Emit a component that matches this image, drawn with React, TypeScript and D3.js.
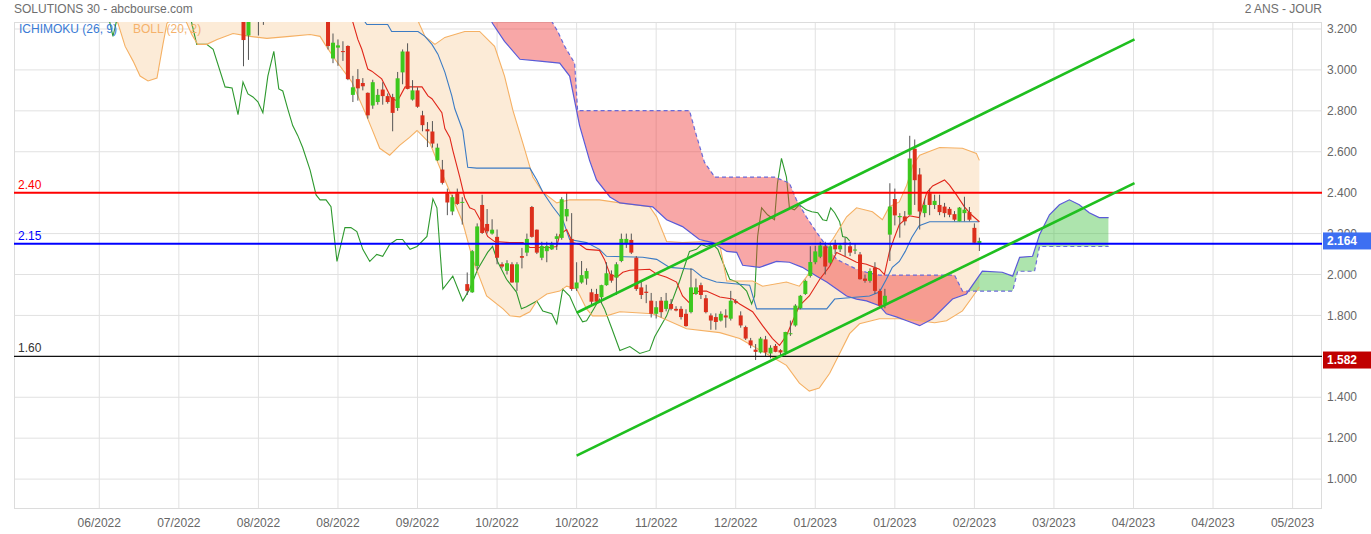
import React from 'react';
import * as d3 from 'd3';

const W = 1371, H = 534;
const PL = 14, PR = 1322, PT = 22, PB = 509;

const xTickIdx = [0, 16, 32, 48, 64, 80, 96, 112, 128, 144, 160, 176, 192, 208, 224, 240];
const xTickLabels = ['06/2022', '07/2022', '08/2022', '08/2022', '09/2022', '10/2022', '10/2022', '11/2022', '12/2022', '01/2023', '01/2023', '02/2023', '03/2023', '04/2023', '04/2023', '05/2023'];
const yTicks = [1.0, 1.2, 1.4, 1.6, 1.8, 2.0, 2.2, 2.4, 2.6, 2.8, 3.0, 3.2];

const firstCandle = 29;
const opens = [3.30, 3.168, 3.27, 3.30, 3.28, 3.30, 3.33, 3.37, 3.35, 3.31, 3.34, 3.42, 3.38, 3.35, 3.31, 3.33, 3.30,
  3.26, 3.056, 3.109, 3.092, 3.117, 2.878, 2.955, 2.936, 2.888, 2.826, 2.843, 2.904, 2.872, 2.867, 2.814, 2.988, 3.09, 2.855, 2.90, 2.778, 2.71, 2.699, 2.558, 2.513,
  2.397, 2.308, 2.397, 2.35, 1.953, 1.913, 2.042, 2.34, 2.247, 2.20, 2.184, 2.05, 2.018, 2.05, 1.961, 2.09, 2.107, 2.33, 2.219, 2.082,
  2.114, 2.123, 2.174, 2.179, 2.284, 2.174, 1.932, 1.961, 1.98, 1.913, 1.905, 1.889, 1.948, 2.00, 1.985, 2.066, 2.152, 2.169, 2.082, 1.937,
  1.916, 1.872, 1.808, 1.872, 1.832, 1.856, 1.832, 1.832, 1.808, 1.816, 1.905, 1.948, 1.884, 1.80, 1.792, 1.775, 1.80, 1.784, 1.87, 1.80,
  1.743, 1.678, 1.633, 1.619, 1.683, 1.614, 1.651, 1.63, 1.619, 1.71, 1.751, 1.835, 1.905, 1.993, 2.06, 2.087, 2.138, 2.058, 2.147, 2.123,
  2.155, 2.138, 2.12, 2.098, 1.98, 1.969, 2.034, 1.92, 1.856, 2.195, 2.369, 2.28, 2.284, 2.292, 2.615, 2.489, 2.30, 2.397, 2.34, 2.34,
  2.332, 2.321, 2.295, 2.26, 2.30, 2.305, 2.228, 2.15];
const highs = [3.36, 3.32, 3.33, 3.34, 3.33, 3.36, 3.40, 3.42, 3.39, 3.36, 3.45, 3.46, 3.41, 3.38, 3.34, 3.36, 3.33,
  3.29, 3.178, 3.149, 3.14, 3.12, 2.971, 3.004, 2.96, 2.89, 2.952, 2.907, 2.94, 2.885, 2.883, 2.99, 3.10, 3.13, 2.95, 2.915, 2.80, 2.745, 2.75, 2.64, 2.56,
  2.42, 2.39, 2.42, 2.378, 2.01, 2.12, 2.25, 2.39, 2.32, 2.27, 2.22, 2.06, 2.07, 2.06, 2.06, 2.13, 2.20, 2.335, 2.22, 2.16,
  2.16, 2.16, 2.20, 2.378, 2.40, 2.30, 2.06, 2.066, 2.03, 1.93, 1.93, 1.95, 2.06, 2.02, 2.06, 2.20, 2.20, 2.20, 2.09, 1.97,
  1.95, 1.91, 1.87, 1.89, 1.91, 1.88, 1.845, 1.845, 1.83, 2.03, 1.98, 1.96, 1.90, 1.81, 1.81, 1.82, 1.83, 1.92, 1.88, 1.82,
  1.75, 1.69, 1.66, 1.695, 1.70, 1.654, 1.66, 1.635, 1.72, 1.775, 1.855, 1.90, 1.975, 2.138, 2.14, 2.16, 2.16, 2.15, 2.17, 2.15,
  2.18, 2.16, 2.15, 2.11, 2.00, 2.03, 2.06, 1.93, 1.93, 2.446, 2.42, 2.30, 2.31, 2.678, 2.66, 2.52, 2.37, 2.42, 2.39, 2.39,
  2.35, 2.33, 2.31, 2.33, 2.38, 2.33, 2.25, 2.18];
const lows = [3.018, 3.049, 3.24, 3.168, 3.22, 3.26, 3.29, 3.32, 3.30, 3.28, 3.33, 3.36, 3.33, 3.29, 3.27, 3.28, 3.25,
  3.10, 3.033, 3.02, 3.044, 2.95, 2.843, 2.85, 2.90, 2.762, 2.81, 2.83, 2.83, 2.835, 2.70, 2.80, 2.93, 2.905, 2.85, 2.815, 2.70, 2.623, 2.62, 2.555, 2.44,
  2.29, 2.29, 2.34, 2.244, 1.90, 1.91, 2.02, 2.198, 2.20, 2.195, 2.05, 2.03, 2.00, 1.96, 1.92, 2.03, 2.09, 2.18, 2.10, 2.07,
  2.06, 2.12, 2.12, 2.17, 2.26, 1.92, 1.92, 1.955, 1.95, 1.85, 1.865, 1.86, 1.945, 1.96, 1.90, 2.06, 2.13, 2.10, 1.92, 1.88,
  1.86, 1.79, 1.785, 1.79, 1.82, 1.825, 1.82, 1.78, 1.745, 1.81, 1.90, 1.88, 1.81, 1.73, 1.73, 1.77, 1.74, 1.775, 1.855, 1.74,
  1.68, 1.64, 1.582, 1.614, 1.60, 1.59, 1.62, 1.60, 1.605, 1.70, 1.745, 1.83, 1.90, 1.985, 2.05, 2.08, 2.00, 2.05, 2.10, 2.11,
  2.09, 2.09, 2.10, 1.975, 1.96, 1.96, 1.905, 1.84, 1.835, 2.066, 2.24, 2.18, 2.24, 2.29, 2.34, 2.22, 2.28, 2.29, 2.32, 2.29,
  2.28, 2.28, 2.26, 2.26, 2.26, 2.26, 2.15, 2.115];
const closes = [3.146, 3.26, 3.30, 3.26, 3.30, 3.33, 3.37, 3.35, 3.31, 3.34, 3.42, 3.38, 3.35, 3.31, 3.33, 3.30, 3.28,
  3.117, 3.133, 3.12, 3.088, 2.955, 2.915, 2.91, 2.92, 2.778, 2.94, 2.878, 2.872, 2.843, 2.79, 2.959, 3.09, 2.907, 2.90, 2.82, 2.73, 2.70, 2.64, 2.62, 2.448,
  2.352, 2.378, 2.345, 2.355, 1.92, 2.114, 2.235, 2.203, 2.211, 2.219, 2.082, 2.039, 2.055, 1.961, 2.05, 2.082, 2.174, 2.184, 2.107, 2.139,
  2.139, 2.147, 2.187, 2.368, 2.32, 1.929, 1.961, 1.997, 2.017, 1.867, 1.867, 1.948, 2.006, 1.97, 2.05, 2.174, 2.174, 2.107, 1.929, 1.90,
  1.91, 1.808, 1.84, 1.816, 1.872, 1.832, 1.824, 1.792, 1.748, 1.937, 1.937, 1.90, 1.816, 1.775, 1.768, 1.808, 1.79, 1.872, 1.862, 1.751,
  1.687, 1.654, 1.622, 1.687, 1.619, 1.642, 1.622, 1.619, 1.719, 1.713, 1.848, 1.896, 1.969, 2.061, 2.113, 2.142, 2.039, 2.138, 2.123, 2.142,
  2.147, 2.107, 2.122, 1.977, 1.969, 2.017, 1.92, 1.848, 1.896, 2.332, 2.289, 2.286, 2.26, 2.567, 2.461, 2.308, 2.34, 2.34, 2.36, 2.305,
  2.30, 2.292, 2.268, 2.327, 2.317, 2.268, 2.155, 2.164];

const bollUpper: [number, number][] = [[1.2, 3.4], [61.5, 3.35], [63.3, 3.26], [63.9, 3.25], [65.5, 3.164], [67.5, 3.125], [69.5, 3.159], [71.5, 3.173],
  [73.5, 3.188], [76.5, 3.188], [79.5, 3.115], [81.5, 2.97], [83.2, 2.801], [85.2, 2.641], [87.2, 2.476], [89.2, 2.403], [92.0, 2.35],
  [94.6, 2.365], [100.6, 2.365], [104.7, 2.35], [110.7, 2.331], [112.1, 2.282], [114.1, 2.161], [117.3, 2.156], [122.2, 2.161], [124.8, 2.147],
  [126.2, 1.968], [131.4, 1.968], [133.4, 1.943], [138.2, 1.963], [140.8, 1.943], [142.2, 1.987], [144.3, 2.074], [147.5, 2.171], [150.3, 2.282],
  [152.3, 2.326], [155.5, 2.307], [157.5, 2.268], [158.9, 2.331], [160.9, 2.355], [162.4, 2.437], [163.6, 2.534], [165.0, 2.583], [169.0, 2.621],
  [173.6, 2.617], [176.4, 2.592], [177, 2.558]];
const bollLower: [number, number][] = [[1.2, 3.3], [2.6, 3.25], [3.6, 3.24], [5.2, 3.115], [6.8, 3.043], [8.2, 2.97], [9.8, 2.946], [11.6, 2.96],
  [12.8, 3.125], [13.6, 3.227], [15.2, 3.27], [17.4, 3.24], [18.6, 3.173], [19.8, 3.125], [21.6, 3.125], [23.7, 3.149], [26.9, 3.178],
  [30.3, 3.164], [33.7, 3.154], [38.3, 3.164], [42.4, 3.173], [44.4, 3.164], [45.4, 3.125], [47.4, 3.052], [50.8, 2.941], [52.0, 2.873],
  [53.4, 2.796], [54.8, 2.713], [56.4, 2.617], [58.4, 2.583], [60.4, 2.631], [62.4, 2.67], [63.9, 2.704], [66.5, 2.641], [69.5, 2.462],
  [73.1, 2.254], [75.1, 2.074], [77.9, 1.895], [81.2, 1.832], [82.6, 1.798], [84.6, 1.793], [86.6, 1.818], [88.0, 1.871], [90.0, 1.905],
  [92.6, 1.919], [94.0, 1.943], [96.0, 1.929], [98.0, 1.832], [99.2, 1.798], [102.0, 1.798], [104.7, 1.818], [111.3, 1.808], [118.1, 1.735],
  [124.8, 1.716], [128.8, 1.687], [134.8, 1.604], [138.2, 1.556], [140.8, 1.469], [142.8, 1.43], [144.8, 1.445], [146.9, 1.517],
  [148.9, 1.614], [150.9, 1.711], [152.9, 1.759], [156.9, 1.784], [160.9, 1.784], [165.0, 1.774], [168.0, 1.764], [170.4, 1.774],
  [173.6, 1.822], [175.6, 1.89], [177, 1.939]];

const tenkan: [number, number][] = [[49.4, 3.27], [50.8, 3.25], [52.0, 3.149], [52.8, 3.101], [54.0, 3.004], [54.8, 2.994], [56.8, 2.956],
  [58.8, 2.859], [60.0, 2.849], [61.5, 2.917], [64.9, 2.917], [66.1, 2.873], [66.9, 2.859], [68.9, 2.791], [69.5, 2.713], [70.5, 2.67],
  [71.1, 2.607], [72.5, 2.476], [73.5, 2.374], [74.5, 2.326], [75.5, 2.316], [76.9, 2.254], [78.1, 2.186], [79.5, 2.161], [82.6, 2.156],
  [85.2, 2.156], [86.6, 2.132], [90.6, 2.132], [92.0, 2.137], [92.6, 2.195], [94.0, 2.22], [95.2, 2.156], [96.6, 2.147], [98.0, 2.123],
  [100.6, 2.118], [101.6, 2.074], [102.7, 2.002], [104.1, 1.987], [105.3, 2.011], [106.7, 2.021], [110.7, 2.026], [112.1, 2.002],
  [114.1, 1.987], [116.1, 1.963], [117.3, 1.895], [118.7, 1.861], [119.3, 1.905], [120.7, 1.919], [122.1, 1.919], [124.8, 1.89],
  [127.4, 1.88], [128.8, 1.856], [131.4, 1.818], [133.4, 1.75], [135.4, 1.687], [136.8, 1.653], [138.2, 1.701], [139.4, 1.769],
  [140.8, 1.847], [142.8, 1.895], [144.9, 1.977], [146.9, 2.04], [148.3, 2.108], [150.3, 2.084], [152.3, 2.06], [154.3, 2.05],
  [156.9, 2.026], [157.9, 2.0], [158.9, 2.11], [159.9, 2.18], [160.9, 2.244], [162.9, 2.287], [164.9, 2.278], [166.4, 2.399],
  [167.6, 2.433], [170.0, 2.462], [171.0, 2.437], [172.4, 2.389], [174.0, 2.331], [175.4, 2.292], [177, 2.258]];
const kijun: [number, number][] = [[52.4, 3.27], [53.8, 3.222], [58.0, 3.222], [58.8, 3.188], [64.1, 3.188], [65.5, 3.164], [66.9, 3.125],
  [68.1, 3.077], [69.5, 2.989], [70.9, 2.873], [71.5, 2.81], [73.1, 2.704], [74.1, 2.524], [75.9, 2.52], [86.6, 2.52], [88.0, 2.462],
  [89.2, 2.403], [91.2, 2.331], [93.2, 2.268], [94.6, 2.171], [98.0, 2.156], [100.6, 2.123], [102.0, 2.089], [109.3, 2.084], [112.1, 2.074],
  [114.7, 2.035], [119.3, 2.026], [121.3, 1.987], [124.1, 1.963], [130.8, 1.948], [132.2, 1.832], [146.3, 1.832], [147.9, 1.88],
  [154.9, 1.895], [156.9, 1.914], [158.3, 1.977], [159.5, 2.035], [160.9, 2.064], [162.1, 2.113], [163.4, 2.181], [164.9, 2.239],
  [167.0, 2.258], [177, 2.258]];
const chikou: [number, number][] = [[1.75, 3.27], [2.75, 3.164], [3.76, 3.27], [18.2, 3.27], [19.6, 3.125], [21.6, 3.125], [22.9, 3.101],
  [25.3, 2.917], [26.7, 2.912], [27.9, 2.781], [28.9, 2.941], [29.9, 2.883], [30.9, 2.868], [31.9, 2.844], [32.9, 2.791], [33.9, 2.97],
  [35.1, 3.091], [36.1, 2.907], [36.9, 2.897], [37.9, 2.81], [38.9, 2.728], [39.9, 2.68], [40.9, 2.621], [42.4, 2.51], [43.6, 2.389],
  [44.4, 2.365], [45.6, 2.365], [46.6, 2.331], [47.8, 2.064], [49.4, 2.229], [50.6, 2.229], [51.8, 2.21], [53.0, 2.123], [54.4, 2.064],
  [55.8, 2.098], [57.0, 2.089], [58.4, 2.147], [59.8, 2.171], [61.0, 2.171], [62.5, 2.123], [63.9, 2.137], [65.9, 2.186], [67.1, 2.37],
  [67.9, 2.326], [69.1, 1.929], [71.1, 1.992], [73.1, 1.871], [74.5, 1.929], [76.1, 2.026], [78.1, 2.108], [79.1, 2.137], [80.1, 2.064],
  [81.9, 1.977], [83.9, 1.914], [84.9, 1.832], [85.9, 1.842], [88.0, 1.871], [89.2, 1.822], [91.0, 1.808], [92.0, 1.759], [93.2, 1.929],
  [94.6, 1.895], [96.0, 1.818], [97.2, 1.769], [98.0, 1.774], [99.2, 1.822], [100.6, 1.88], [101.6, 1.832], [103.1, 1.735], [104.7, 1.629],
  [106.7, 1.648], [108.7, 1.614], [110.7, 1.629], [111.7, 1.696], [114.1, 1.798], [116.7, 1.967], [118.7, 2.113], [120.1, 2.123],
  [121.1, 2.147], [122.1, 2.137], [123.4, 2.147], [124.4, 2.123], [125.4, 2.06], [126.8, 1.977], [128.2, 1.963], [129.2, 1.943],
  [130.2, 1.919], [131.2, 1.856], [131.8, 1.895], [132.4, 2.186], [133.2, 2.326], [134.4, 2.292], [135.8, 2.268], [136.4, 2.447],
  [137.2, 2.568], [138.2, 2.476], [138.8, 2.326], [139.8, 2.316], [140.8, 2.341], [142.2, 2.316], [143.3, 2.307], [144.5, 2.302],
  [145.5, 2.268], [146.3, 2.263], [147.1, 2.326], [147.9, 2.302], [148.9, 2.258], [149.5, 2.186], [150.3, 2.181], [150.9, 2.164]];
const spanA: [number, number][] = [[78.2, 3.27], [79.1, 3.227], [81.5, 3.14], [84.6, 3.052], [88.6, 3.043], [92.6, 3.033], [94.6, 2.97],
  [96.6, 2.728], [98.6, 2.558], [100.0, 2.462], [102.7, 2.379], [104.7, 2.35], [111.3, 2.331], [114.1, 2.268], [117.3, 2.234],
  [120.7, 2.171], [123.4, 2.156], [126.2, 2.113], [128.2, 2.108], [129.4, 2.045], [132.8, 2.035], [136.2, 2.064], [138.8, 2.06],
  [141.4, 2.035], [144.3, 1.992], [146.3, 1.963], [148.3, 1.929], [150.3, 1.895], [152.3, 1.88], [154.3, 1.871], [156.9, 1.847],
  [158.3, 1.808], [160.3, 1.793], [162.4, 1.774], [165.0, 1.75], [167.6, 1.784], [171.6, 1.88], [174.4, 1.905], [177.6, 2.016],
  [181.6, 2.011], [183.7, 1.992], [185.1, 2.084], [187.7, 2.089], [189.1, 2.195], [191.1, 2.292], [193.1, 2.341], [195.1, 2.365],
  [197.1, 2.341], [199.1, 2.302], [201.1, 2.278], [203, 2.278]];
const spanB: [number, number][] = [[90.2, 3.27], [92.2, 3.188], [93.6, 3.115], [95.6, 3.033], [96.2, 2.801], [118.7, 2.801], [120.1, 2.679],
  [121.7, 2.549], [123.8, 2.476], [135.8, 2.476], [138.8, 2.447], [140.2, 2.365], [142.2, 2.282], [144.3, 2.205], [146.3, 2.137],
  [148.3, 2.074], [150.3, 2.05], [152.3, 2.026], [154.3, 2.011], [156.9, 1.997], [172.0, 1.997], [173.6, 1.919], [183.7, 1.919],
  [184.7, 2.016], [188.1, 2.016], [189.1, 2.137], [203, 2.137]];

const trendUpper: [number, number][] = [[96.0, 1.813], [208.2, 3.149]];
const trendLower: [number, number][] = [[96.0, 1.115], [208.2, 2.447]];

const levels = [
  { v: 2.40, label: '2.40', color: '#ff0000', width: 2 },
  { v: 2.15, label: '2.15', color: '#0000ff', width: 2 },
  { v: 1.60, label: '1.60', color: '#111111', width: 1.2 },
];
const lastValue = 2.164;
const minValue = 1.582;

const FONT = "'Liberation Sans', Arial, sans-serif";

export default function App() {
  const x = d3.scaleLinear().domain([0, 240]).range([99.3, 1292.6]);
  const y = d3.scaleLinear().domain([1.0, 3.2]).range([479.1, 29.0]);
  const line = d3.line<[number, number]>().x(d => x(d[0])).y(d => y(d[1]));
  const poly = (pts: [number, number][]) => (line(pts) || '') + 'Z';

  const candles = opens.map((o, k) => ({ i: firstCandle + k, o, h: highs[k], l: lows[k], c: closes[k] }));
  const bollPoly: [number, number][] = [...bollUpper, ...bollLower.slice().reverse()];
  const cloudPoly: [number, number][] = [...spanA, ...spanB.slice().reverse()];
  const a0 = spanA[0][0], a1 = spanA[spanA.length - 1][0];
  const aboveA: [number, number][] = [...spanA, [a1, 5], [a0, 5]];
  const belowA: [number, number][] = [...spanA, [a1, 0], [a0, 0]];

  return (
    <svg width={W} height={H} style={{ position: 'absolute', left: 0, top: 0, background: '#fff' }} fontFamily={FONT}>
      <defs>
        <clipPath id="plotClip"><rect x={PL} y={PT} width={PR - PL} height={PB - PT} /></clipPath>
        <clipPath id="aboveA"><path d={poly(aboveA)} /></clipPath>
        <clipPath id="belowA"><path d={poly(belowA)} /></clipPath>
      </defs>
      <rect x={0} y={0} width={W} height={H} fill="#fff" />
      <text x={14} y={13} fontSize={12} fill="#6e6e6e">SOLUTIONS 30 - abcbourse.com</text>
      <text x={PR} y={13} fontSize={12} fill="#6e6e6e" textAnchor="end">2 ANS - JOUR</text>

      {/* grid */}
      {yTicks.map(t => (
        <line key={'gy' + t} x1={PL} x2={PR} y1={y(t)} y2={y(t)} stroke="#e1e1e1" strokeWidth={1} />
      ))}
      {xTickIdx.map((t, k) => (
        <line key={'gx' + k} x1={x(t)} x2={x(t)} y1={PT} y2={PB} stroke="#e1e1e1" strokeWidth={1} />
      ))}
      <rect x={PL + 0.5} y={PT + 0.5} width={PR - PL - 1} height={PB - PT - 1} fill="none" stroke="#dcdcdc" />

      <g clipPath="url(#plotClip)">
        <path d={poly(bollPoly)} fill="#fcebd7" />
        <path d={line(chikou) || ''} fill="none" stroke="#2e992e" strokeWidth={1.1} />
        <g clipPath="url(#aboveA)">
          <path d={poly(cloudPoly)} fill="rgba(240,60,60,0.45)" />
        </g>
        <g clipPath="url(#belowA)">
          <path d={poly(cloudPoly)} fill="rgba(60,190,60,0.42)" />
        </g>
        <path d={line(bollUpper) || ''} fill="none" stroke="#f5b063" strokeWidth={1.1} />
        <path d={line(bollLower) || ''} fill="none" stroke="#f5b063" strokeWidth={1.1} />
        <path d={line(spanA) || ''} fill="none" stroke="#5a5ad8" strokeWidth={1.2} />
        <path d={line(spanB) || ''} fill="none" stroke="#6a6ad8" strokeWidth={1.2} strokeDasharray="4,3" />
        <path d={line(kijun) || ''} fill="none" stroke="#3b7bc4" strokeWidth={1.1} />
        <path d={line(tenkan) || ''} fill="none" stroke="#e0261a" strokeWidth={1.1} />

        {candles.map(cd => {
          const cx = x(cd.i);
          const up = cd.c >= cd.o;
          const top = y(Math.max(cd.o, cd.c));
          const bot = y(Math.min(cd.o, cd.c));
          return (
            <g key={'c' + cd.i}>
              <line x1={cx} x2={cx} y1={y(cd.h)} y2={y(cd.l)} stroke="#555" strokeWidth={1} />
              <rect x={cx - 2} y={top} width={4} height={Math.max(1, bot - top)} fill={up ? '#3dc81e' : '#dc2f1c'} />
            </g>
          );
        })}

        {levels.map(l => (
          <line key={'lv' + l.label} x1={PL} x2={PR} y1={y(l.v)} y2={y(l.v)} stroke={l.color} strokeWidth={l.width} />
        ))}
        <path d={line(trendUpper) || ''} fill="none" stroke="#1fbf1f" strokeWidth={2.6} />
        <path d={line(trendLower) || ''} fill="none" stroke="#1fbf1f" strokeWidth={2.6} />
      </g>

      {levels.map(l => (
        <text key={'lt' + l.label} x={18} y={y(l.v) - 4} fontSize={12} fill={l.color === '#111111' ? '#333' : l.color}>{l.label}</text>
      ))}

      <text x={19} y={33} fontSize={12} fill="#3a7bd5">ICHIMOKU (26, 9)</text>
      <text x={133} y={33} fontSize={12} fill="#f5b26b">BOLL (20, 2)</text>

      {yTicks.map(t => (
        <text key={'yl' + t} x={1327} y={y(t)} dy="0.35em" fontSize={12} fill="#666">{t.toFixed(3)}</text>
      ))}
      {xTickIdx.map((t, k) => (
        <text key={'xl' + k} x={x(t)} y={527} fontSize={12} fill="#666" textAnchor="middle">{xTickLabels[k]}</text>
      ))}

      <rect x={1323} y={y(lastValue) - 8.5} width={48} height={17} fill="#3d6ff2" />
      <text x={1327} y={y(lastValue)} dy="0.36em" fontSize={12} fontWeight="bold" fill="#fff">{lastValue.toFixed(3)}</text>
      <rect x={1323} y={y(minValue) - 8.5} width={48} height={17} fill="#c00000" />
      <text x={1327} y={y(minValue)} dy="0.36em" fontSize={12} fontWeight="bold" fill="#fff">{minValue.toFixed(3)}</text>
    </svg>
  );
}
